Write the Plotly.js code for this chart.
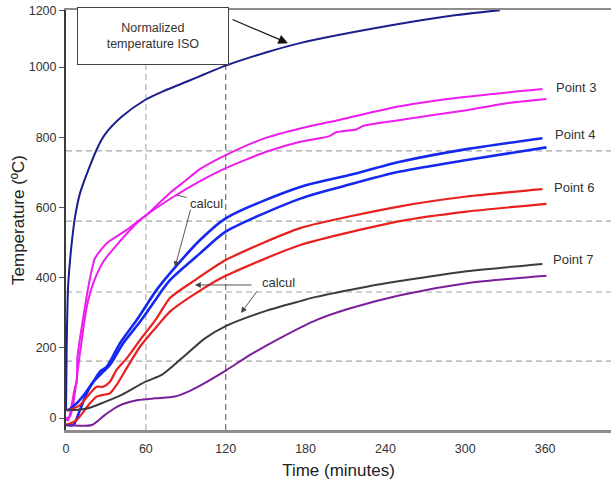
<!DOCTYPE html>
<html>
<head>
<meta charset="utf-8">
<script src="https://cdn.plot.ly/plotly-3.0.1.min.js"></script>
<style>html,body{margin:0;padding:0;background:#fff;}#chart{width:611px;height:489px;}</style>
</head>
<body>
<div id="chart"></div>
<script>
// ---- data (time in minutes, temperature in °C, as read on the chart's axes) ----
var isoTime = [0, 0.5, 1.2, 1.7, 4.3, 6.8, 10.5, 16.8, 24.3, 29.3, 41.8, 59.4, 74.4, 91.9, 104.4, 120, 150.8, 175.8, 243.4, 293.5, 326];
var isoTemp = [20, 200, 336, 384, 498, 573, 640, 707, 775, 808, 858, 906, 933, 960, 980, 1004, 1042, 1068, 1118, 1148, 1162];

var p3MeasTime = [0, 1.7, 6.8, 8.0, 8.6, 16.8, 21.8, 30.6, 45.6, 56.9, 78.1, 100.7, 120, 150, 176, 198, 203, 218, 223, 251, 301, 331, 361];
var p3MeasTemp = [-5, -6, 89, 100, 174, 374, 455, 498, 536, 569, 624, 675, 712, 758, 787, 803, 814, 822, 832, 849, 877, 897, 909];
var p3CalcTime = [0, 3, 10.5, 15.6, 20.5, 28, 39.3, 55.6, 61, 78.1, 89.4, 100.7, 120, 150, 176, 206, 251, 301, 358];
var p3CalcTemp = [0, 4, 185, 317, 384, 445, 498, 564, 580, 641, 675, 709, 749, 798, 825, 850, 888, 915, 937];

var p4CalcTime = [0, 1.7, 8, 14.3, 20.5, 25.5, 30.6, 40.6, 53.1, 68.1, 78.1, 100.7, 120, 176, 213, 251, 301, 358];
var p4CalcTemp = [23, 23, 42, 70, 103, 132, 146, 213, 279, 365, 412, 507, 569, 658, 692, 730, 766, 797];
var p4MeasTime = [0, 5.5, 10.5, 15.6, 20.5, 28, 33, 43, 55.6, 70.6, 78.1, 100.7, 120, 176, 213, 251, 301, 361];
var p4MeasTemp = [-20, -20, 23, 70, 103, 132, 151, 213, 274, 355, 393, 469, 531, 625, 665, 702, 735, 771];

var p6CalcTime = [0, 3, 10.5, 18, 23, 28, 33, 38, 45.6, 55.6, 68.1, 78.1, 97, 120, 176, 251, 301, 358];
var p6CalcTemp = [23, 23, 37, 70, 89, 89, 103, 137, 170, 222, 284, 342, 393, 450, 541, 603, 631, 652];
var p6MeasTime = [0, 8, 18, 23, 28, 33, 38, 45.6, 55.6, 68.1, 78.1, 100.7, 120, 176, 251, 301, 361];
var p6MeasTemp = [-20, -6, 42, 61, 66, 70, 94, 142, 203, 260, 303, 363, 405, 493, 561, 588, 610];

var p7CalcTime = [0, 6, 16.8, 29.3, 41.8, 59.4, 71.9, 86.9, 104.4, 120, 150.8, 176, 188, 226, 251, 301, 358];
var p7CalcTemp = [23, 23, 28, 46, 66, 103, 123, 170, 227, 262, 306, 333, 345, 374, 390, 418, 439];
var p7MeasTime = [0, 19.3, 29.3, 39.3, 54.3, 66.9, 81.9, 91.9, 100.7, 120, 138, 163, 188, 213, 251, 301, 361];
var p7MeasTemp = [-20, -20, 9, 34, 51, 56, 61, 75, 92, 135, 179, 232, 279, 312, 350, 384, 405];

var xTickVals = [0, 60, 120, 180, 240, 300, 360];
var xTickText = ['0', '60', '120', '180', '240', '300', '360'];
var yTickVals = [0, 200, 400, 600, 800, 1000, 1162];
var yTickText = ['0', '200', '400', '600', '800', '1000', '1200'];
var gridTemps = [162, 359, 561, 761];
var gridTimes = [60, 120];

var FONT = 'Arial, "Liberation Sans", sans-serif';

function line(x, y, color, width, smooth) {
  return {x: x, y: y, type: 'scatter', mode: 'lines', showlegend: false, hoverinfo: 'skip',
          line: {color: color, width: width, shape: 'spline', smoothing: smooth}};
}

var traces = [
  line(isoTime, isoTemp, '#1b1f8c', 2, 0.8),
  line(p3MeasTime, p3MeasTemp, '#ee1cee', 2, 0.5),
  line(p3CalcTime, p3CalcTemp, '#ee1cee', 2, 0.8),
  line(p4MeasTime, p4MeasTemp, '#1428f0', 2.6, 0.7),
  line(p4CalcTime, p4CalcTemp, '#1428f0', 2.6, 0.8),
  line(p6MeasTime, p6MeasTemp, '#e8201e', 2.2, 0.6),
  line(p6CalcTime, p6CalcTemp, '#e8201e', 2.2, 0.6),
  line(p7MeasTime, p7MeasTemp, '#7a1f9c', 2, 0.7),
  line(p7CalcTime, p7CalcTemp, '#3c3c3c', 2, 0.7)
];

var shapes = [];
gridTemps.forEach(function (v) {
  shapes.push({type: 'line', xref: 'paper', yref: 'y', x0: 0, x1: 1, y0: v, y1: v, layer: 'below',
               line: {color: '#a6a6a6', width: 1.2, dash: '6px,4px'}});
});
gridTimes.forEach(function (v, i) {
  shapes.push({type: 'line', xref: 'x', yref: 'paper', x0: v, x1: v, y0: 0, y1: 1, layer: 'below',
               line: {color: i === 0 ? '#b0b0b0' : '#707070', width: 1.2, dash: '6px,4px'}});
});

var aFont = {family: FONT, size: 13, color: '#333'};
var annotations = [
  {x: 65.7, y: 1088, xref: 'x', yref: 'y', text: 'Normalized<br>temperature ISO', showarrow: false,
   font: {family: FONT, size: 12.5, color: '#333'}, bgcolor: '#fff', bordercolor: '#444', borderwidth: 1,
   width: 148, height: 54, borderpad: 1, xanchor: 'center', yanchor: 'middle'},
  {x: 166.8, y: 1068, ax: 124, ay: 1137, xref: 'x', yref: 'y', axref: 'x', ayref: 'y', text: '',
   showarrow: true, arrowhead: 2, arrowsize: 1.6, arrowwidth: 1.2, arrowcolor: '#111'},
  {x: 383, y: 943, xref: 'x', yref: 'y', text: 'Point 3', showarrow: false, font: aFont},
  {x: 382.4, y: 809, xref: 'x', yref: 'y', text: 'Point 4', showarrow: false, font: aFont},
  {x: 381.7, y: 658, xref: 'x', yref: 'y', text: 'Point 6', showarrow: false, font: aFont},
  {x: 381, y: 453, xref: 'x', yref: 'y', text: 'Point 7', showarrow: false, font: aFont},
  {x: 105.9, y: 612, xref: 'x', yref: 'y', text: 'calcul', showarrow: false, font: aFont},
  {x: 81.9, y: 430, ax: 93.9, ay: 598, xref: 'x', yref: 'y', axref: 'x', ayref: 'y', text: '',
   showarrow: true, arrowhead: 2, arrowsize: 1.3, arrowwidth: 0.9, arrowcolor: '#444'},
  {x: 83.4, y: 635, ax: 91.7, ay: 627, xref: 'x', yref: 'y', axref: 'x', ayref: 'y', text: '',
   showarrow: true, arrowhead: 0, arrowwidth: 0.9, arrowcolor: '#444'},
  {x: 159.7, y: 387, xref: 'x', yref: 'y', text: 'calcul', showarrow: false, font: aFont},
  {x: 96.9, y: 379, ax: 140.5, ay: 379, xref: 'x', yref: 'y', axref: 'x', ayref: 'y', text: '',
   showarrow: true, arrowhead: 2, arrowsize: 1.3, arrowwidth: 0.9, arrowcolor: '#444'},
  {x: 131.5, y: 299, ax: 144.3, ay: 365, xref: 'x', yref: 'y', axref: 'x', ayref: 'y', text: '',
   showarrow: true, arrowhead: 2, arrowsize: 1.3, arrowwidth: 0.9, arrowcolor: '#444'}
];

var layout = {
  width: 611, height: 489,
  margin: {l: 66, r: 0, t: 10, b: 59, pad: 0},
  paper_bgcolor: '#fff', plot_bgcolor: '#fff',
  font: {family: FONT, size: 12.5, color: '#333'},
  showlegend: false,
  xaxis: {
    range: [0, 409.5], tickvals: xTickVals, ticktext: xTickText,
    showgrid: false, zeroline: false, showline: true, mirror: true,
    linecolor: '#8c8c8c', linewidth: 2.5, ticks: '', ticklabelstandoff: 5,
    tickfont: {family: FONT, size: 12.5, color: '#333'},
    title: {text: 'Time (minutes)', font: {family: FONT, size: 17, color: '#222'}, standoff: 10}
  },
  yaxis: {
    range: [-34.2, 1162.4], tickvals: yTickVals, ticktext: yTickText,
    showgrid: false, zeroline: false, showline: true,
    linecolor: '#3a3a3a', linewidth: 2, ticks: 'outside', ticklen: 5, tickwidth: 1, tickcolor: '#555',
    tickfont: {family: FONT, size: 12.5, color: '#333'},
    title: {text: 'Temperature (ºC)', font: {family: FONT, size: 17, color: '#222'}, standoff: 0}
  },
  shapes: shapes,
  annotations: annotations
};

Plotly.newPlot('chart', traces, layout, {staticPlot: true, displayModeBar: false});
</script>
</body>
</html>
